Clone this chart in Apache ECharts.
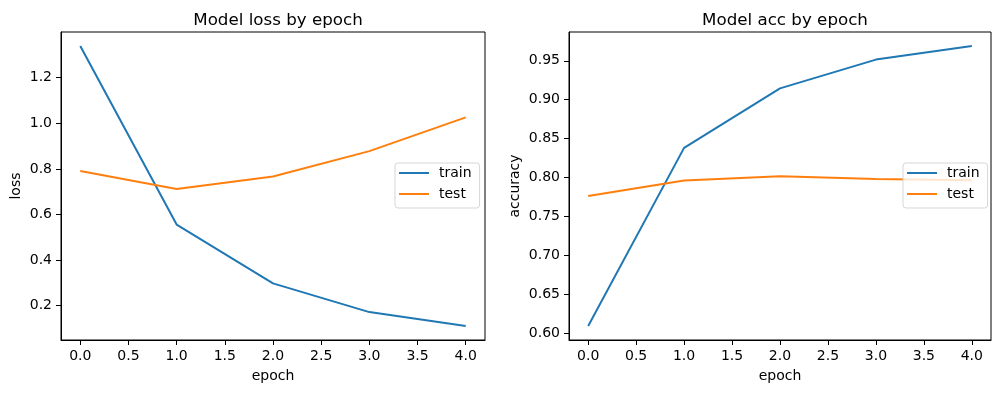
<!DOCTYPE html>
<html>
<head>
<meta charset="utf-8">
<script src="https://cdn.jsdelivr.net/npm/echarts@6/dist/echarts.min.js"></script>
<style>
html,body{margin:0;padding:0;background:#fff;}
#chart{width:1001px;height:393px;}
</style>
</head>
<body>
<div id="chart"></div>
<script>
const epochs = [0, 1, 2, 3, 4];
const lossTrain = [1.339, 0.556, 0.298, 0.172, 0.111];
const lossTest = [0.791, 0.712, 0.767, 0.878, 1.026];
const accTrain = [0.609, 0.838, 0.9145, 0.9515, 0.969];
const accTest = [0.776, 0.796, 0.8015, 0.798, 0.7965];
const xTicks = [0, 0.5, 1, 1.5, 2, 2.5, 3, 3.5, 4];
const lossTicks = [0.2, 0.4, 0.6, 0.8, 1.0, 1.2];
const accTicks = [0.60, 0.65, 0.70, 0.75, 0.80, 0.85, 0.90, 0.95];
const seriesNames = ['train', 'test'];
const titles = ['Model loss by epoch', 'Model acc by epoch'];
const yNames = ['loss', 'accuracy'];
const xName = 'epoch';

const FONT = 'DejaVu Sans';
const BLUE = '#1f77b4', ORANGE = '#ff7f0e';

function pairs(ys) { return epochs.map((e, i) => [e, ys[i]]); }
function pad(arr) {
  const mn = Math.min(...arr), mx = Math.max(...arr), d = (mx - mn) * 0.05;
  return [mn - d, mx + d];
}
const xr = [-0.2, 4.2];
const lossR = pad(lossTrain.concat(lossTest));
const accR = pad(accTrain.concat(accTest));

function xAxis(gi) {
  return {
    type: 'value', gridIndex: gi, min: xr[0], max: xr[1],
    name: xName, nameLocation: 'middle', nameGap: 29,
    nameTextStyle: { fontFamily: FONT, fontSize: 14, color: '#000' },
    axisLine: { show: true, onZero: false, lineStyle: { color: '#000', width: 1 } },
    axisTick: { show: true, length: 5, inside: false, customValues: xTicks, lineStyle: { color: '#000', width: 1 } },
    axisLabel: { show: true, margin: 9, customValues: xTicks, fontFamily: FONT, fontSize: 14, color: '#000',
      formatter: v => Number(v).toFixed(1) },
    splitLine: { show: false }
  };
}
function yAxis(gi, r, ticks, dec, name, gap) {
  return {
    type: 'value', gridIndex: gi, min: r[0], max: r[1],
    name: name, nameLocation: 'middle', nameGap: gap, nameRotate: 90,
    nameTextStyle: { fontFamily: FONT, fontSize: 14, color: '#000' },
    axisLine: { show: true, onZero: false, lineStyle: { color: '#000', width: 1 } },
    axisTick: { show: true, length: 5, inside: false, customValues: ticks, lineStyle: { color: '#000', width: 1 } },
    axisLabel: { show: true, margin: 9, customValues: ticks, fontFamily: FONT, fontSize: 14, color: '#000',
      formatter: v => Number(v).toFixed(dec) },
    splitLine: { show: false }
  };
}
function legend(left) {
  return {
    orient: 'vertical', left: left, top: 163,
    data: seriesNames,
    icon: 'rect', itemWidth: 30, itemHeight: 2, itemGap: 7,
    padding: [3, 8, 7, 4],
    backgroundColor: 'rgba(255,255,255,0.8)',
    borderColor: 'rgba(204,204,204,0.8)', borderWidth: 1, borderRadius: 3,
    textStyle: { fontFamily: FONT, fontSize: 14, color: '#000', lineHeight: 14, padding: [0, 0, 0, 5] },
    selectedMode: false
  };
}
function line(name, data, xi, yi, color) {
  return {
    type: 'line', name: name, data: pairs(data), xAxisIndex: xi, yAxisIndex: yi,
    symbol: 'none', showSymbol: false, smooth: false, clip: true,
    lineStyle: { color: color, width: 2 }, itemStyle: { color: color },
    emphasis: { disabled: true }, animation: false
  };
}

const chart = echarts.init(document.getElementById('chart'), null, { renderer: 'canvas' });
chart.setOption({
  backgroundColor: '#fff',
  animation: false,
  title: [
    { text: titles[0], left: 273, top: 7, textAlign: 'center', textStyle: { fontFamily: FONT, fontSize: 16.7, fontWeight: 'normal', color: '#000' } },
    { text: titles[1], left: 780, top: 7, textAlign: 'center', textStyle: { fontFamily: FONT, fontSize: 16.7, fontWeight: 'normal', color: '#000' } }
  ],
  grid: [
    { left: 61, top: 32, width: 424, height: 308, show: true, borderColor: '#000', borderWidth: 1, backgroundColor: 'transparent' },
    { left: 569, top: 32, width: 422, height: 308, show: true, borderColor: '#000', borderWidth: 1, backgroundColor: 'transparent' }
  ],
  xAxis: [xAxis(0), xAxis(1)],
  yAxis: [
    yAxis(0, lossR, lossTicks, 1, yNames[0], 38),
    yAxis(1, accR, accTicks, 2, yNames[1], 47)
  ],
  legend: [legend(395), legend(903)],
  series: [
    line(seriesNames[0], lossTrain, 0, 0, BLUE),
    line(seriesNames[1], lossTest, 0, 0, ORANGE),
    line(seriesNames[0], accTrain, 1, 1, BLUE),
    line(seriesNames[1], accTest, 1, 1, ORANGE)
  ]
});
</script>
</body>
</html>
